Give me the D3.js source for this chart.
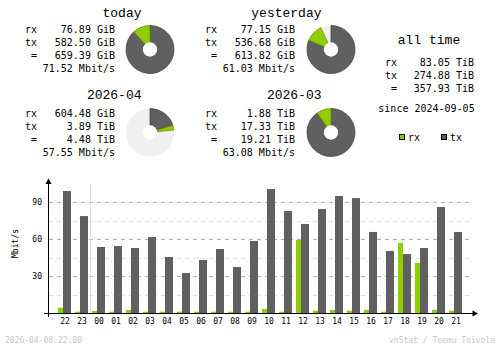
<!DOCTYPE html>
<html><head><meta charset="utf-8">
<script src="https://cdn.jsdelivr.net/npm/d3@7/dist/d3.min.js"></script>
<style>
html,body{margin:0;padding:0;background:#fff;}
svg{display:block;}
text{font-family:"DejaVu Sans Mono",monospace;}
text.title{font-family:"Liberation Mono","DejaVu Sans Mono",monospace;}
</style></head>
<body>
<script>
// ---- data ----
const hours = ["22","23","00","01","02","03","04","05","06","07","08","09","10","11","12","13","14","15","16","17","18","19","20","21"];
const rxRate = [4.3,1.0,1.6,1.0,2.4,1.0,1.0,1.0,1.0,1.0,1.0,1.0,3.2,1.0,59.2,1.9,2.6,1.9,2.6,1.0,56.8,40.5,2.6,1.9];
const txRate = [98.9,78.6,53.5,54.3,52.7,61.6,45.4,32.4,43.0,51.9,37.3,58.4,100.5,82.7,72.2,84.3,94.9,93.2,65.7,50.3,47.8,52.7,85.9,65.7];
const yTicks = [30,60,90];
const yMinor = [15,45,75];

const periodTitles = ["today","yesterday","2026-04","2026-03"];
const periodRxText = ["76.89 GiB","77.15 GiB","604.48 GiB","1.88 TiB"];
const periodTxText = ["582.50 GiB","536.68 GiB","3.89 TiB","17.33 TiB"];
const periodTotalText = ["659.39 GiB","613.82 GiB","4.48 TiB","19.21 TiB"];
const periodRateText = ["71.52 Mbit/s","61.03 Mbit/s","57.55 Mbit/s","63.08 Mbit/s"];
// pie values (GiB)
const pieRx = [76.89, 77.15, 604.48, 1.88*1024];
const pieTx = [582.50, 536.68, 3.89*1024, 17.33*1024];

const allTimeRows = [["rx","83.05 TiB"],["tx","274.88 TiB"],["=","357.93 TiB"]];
const sinceText = "since 2024-09-05";
const footerLeft = "2026-04-08 22:00";
const footerRight = "vnStat / Teemu Toivola";

const C_RX = "#8fcc00", C_TX = "#606060", C_RXD = "#6b9a00", C_TXD = "#444444";

const svg = d3.select("body").append("svg").attr("width",500).attr("height",348);

// ---- summary blocks ----
const blocks = [
  {dx:0, dy:0}, {dx:180, dy:0}, {dx:0, dy:84}, {dx:180, dy:84}
];
const pieCenters = [[150,49.5],[331,49.5],[150,132.5],[331,132.5]];
blocks.forEach((b,i)=>{
  const g = svg.append("g").attr("transform",`translate(${b.dx},${b.dy})`);
  g.append("text").attr("class","title").attr("x",141.5).attr("y",i<2?17:15).attr("text-anchor","end")
    .attr("font-size",13).text(periodTitles[i]);
  const rows = [["rx",periodRxText[i]],["tx",periodTxText[i]],["=",periodTotalText[i]]];
  rows.forEach((r,j)=>{
    g.append("text").attr("x",37).attr("y",33+13*j).attr("text-anchor","end").attr("font-size",10).text(r[0]);
    g.append("text").attr("x",115).attr("y",33+13*j).attr("text-anchor","end").attr("font-size",10).text(r[1]);
  });
  g.append("text").attr("x",115).attr("y",72).attr("text-anchor","end").attr("font-size",10).text(periodRateText[i]);
});

// ---- pies ----
const arc = d3.arc().innerRadius(0).outerRadius(24);
[[0,1],[2,3]].forEach(pair=>{
  const full = Math.max(...pair.map(k=>pieRx[k]+pieTx[k]));
  const ang = d3.scaleLinear().domain([0,full]).range([0,2*Math.PI]);
  pair.forEach(k=>{
    const [cx,cy] = pieCenters[k];
    const g = svg.append("g").attr("transform",`translate(${cx},${cy})`);
    const a1 = ang(pieTx[k]), a2 = ang(pieTx[k]+pieRx[k]);
    if (a2 < 2*Math.PI-1e-6) {
      g.append("path").attr("d",arc({startAngle:a2,endAngle:2*Math.PI})).attr("fill","#f0f0f0");
    }
    g.append("path").attr("d",arc({startAngle:0,endAngle:a1})).attr("fill",C_TX).attr("stroke",C_TXD).attr("stroke-width",0.8);
    g.append("path").attr("d",arc({startAngle:a1,endAngle:a2})).attr("fill",C_RX).attr("stroke",C_RXD).attr("stroke-width",0.8);
    g.append("circle").attr("cx",0).attr("cy",0).attr("r",7.2).attr("fill","#fff");
  });
});

// ---- all time ----
svg.append("text").attr("class","title").attr("x",429).attr("y",44).attr("text-anchor","middle").attr("font-size",13).text("all time");
allTimeRows.forEach((r,j)=>{
  svg.append("text").attr("x",397).attr("y",66+13*j).attr("text-anchor","end").attr("font-size",10).text(r[0]);
  svg.append("text").attr("x",474).attr("y",66+13*j).attr("text-anchor","end").attr("font-size",10).text(r[1]);
});
svg.append("text").attr("x",426.5).attr("y",111.5).attr("text-anchor","middle").attr("font-size",10).text(sinceText);
// legend
const legend = [["rx",C_RX,399],["tx",C_TX,441]];
legend.forEach(l=>{
  svg.append("rect").attr("x",l[2]+0.5).attr("y",134.5).attr("width",5).attr("height",5).attr("fill",l[1]).attr("stroke","#000").attr("stroke-width",1);
  svg.append("text").attr("x",l[2]+9).attr("y",140.5).attr("font-size",10).text(l[0]);
});

// ---- hourly bar chart ----
const x = d3.scaleBand().domain(hours).range([55,463]).paddingInner(0).paddingOuter(0);
const y = d3.scaleLinear().domain([0,90]).range([313,202]);

// gridlines
const grid = svg.append("g");
yMinor.forEach(v=>{
  grid.append("line").attr("x1",49).attr("x2",472).attr("y1",Math.round(y(v))+0.5).attr("y2",Math.round(y(v))+0.5)
    .attr("stroke","#e0e0e0").attr("stroke-dasharray","4,4");
});
yTicks.forEach(v=>{
  grid.append("line").attr("x1",49).attr("x2",472).attr("y1",Math.round(y(v))+0.5).attr("y2",Math.round(y(v))+0.5)
    .attr("stroke","#b0b0b0").attr("stroke-dasharray","4,4");
});
// day separator before "00"
svg.append("line").attr("x1",x("00")+1.5).attr("x2",x("00")+1.5).attr("y1",184).attr("y2",313)
  .attr("stroke","#e0e0e0");

// bars
svg.append("g").selectAll("rect").data(hours).join("rect")
  .attr("x",d=>x(d)+3).attr("width",5)
  .attr("y",(d,i)=>y(rxRate[i])).attr("height",(d,i)=>y(0)-y(rxRate[i]))
  .attr("fill",C_RX);
svg.append("g").selectAll("rect").data(hours).join("rect")
  .attr("x",d=>x(d)+8).attr("width",8)
  .attr("y",(d,i)=>y(txRate[i])).attr("height",(d,i)=>y(0)-y(txRate[i]))
  .attr("fill",C_TX);

// axes
const xAxis = svg.append("g").attr("transform","translate(1.5,313)")
  .call(d3.axisBottom(x).tickSize(0).tickPadding(5));
xAxis.select(".domain").remove();
xAxis.selectAll("text").attr("font-size",8).attr("font-family","DejaVu Sans Mono").attr("fill","#000");

const yAxis = svg.append("g").attr("transform","translate(48,0)")
  .call(d3.axisLeft(y).tickValues(yTicks).tickSize(0).tickPadding(6));
yAxis.select(".domain").remove();
yAxis.selectAll("text").attr("font-size",8).attr("font-family","DejaVu Sans Mono").attr("fill","#000");

svg.append("line").attr("x1",48.5).attr("x2",48.5).attr("y1",183).attr("y2",317).attr("stroke","#000");
svg.append("path").attr("d","M48.5,178.5 L45.5,184 L51.5,184 Z").attr("fill","#000");
svg.append("line").attr("x1",44).attr("x2",473).attr("y1",313.5).attr("y2",313.5).attr("stroke","#000");
svg.append("path").attr("d","M478,313.5 L472.5,310.5 L472.5,316.5 Z").attr("fill","#000");

svg.append("text").attr("transform","translate(17.5,243.5) rotate(-90)").attr("text-anchor","middle")
  .attr("font-size",8).text("Mbit/s");

// footer
svg.append("text").attr("x",5).attr("y",343).attr("font-size",8).attr("fill","#c8c8c8").text(footerLeft);
svg.append("text").attr("x",495).attr("y",343).attr("text-anchor","end").attr("font-size",8).attr("fill","#c8c8c8").text(footerRight);
</script>
</body></html>
